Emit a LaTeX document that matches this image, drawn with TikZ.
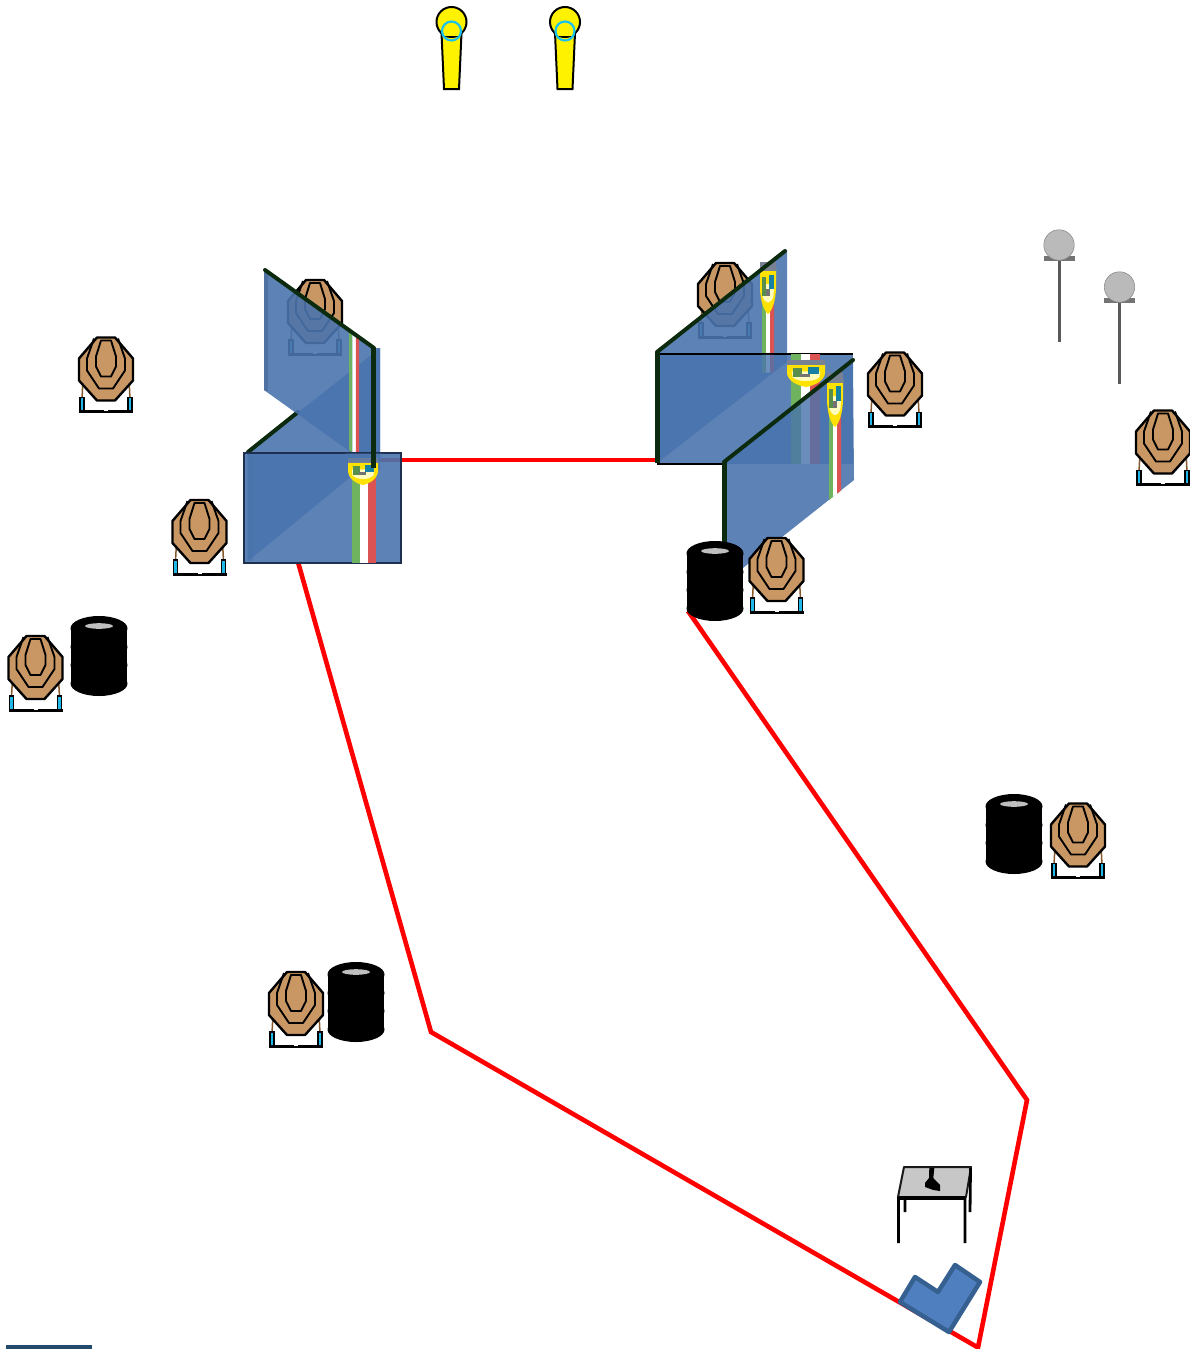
\documentclass[tikz,border=0pt]{standalone}
\definecolor{panelblue}{HTML}{4A74AE}
\definecolor{edgegreen}{HTML}{0C2A0E}
\definecolor{rimdark}{HTML}{1F2F4F}
\definecolor{targetbrown}{HTML}{C99764}
\definecolor{legblue}{HTML}{1FB8E8}
\definecolor{ringcyan}{HTML}{19C3EE}
\definecolor{flagG}{HTML}{6FB35F}
\definecolor{flagR}{HTML}{DB5353}
\definecolor{boxblue}{HTML}{4F7FBF}
\definecolor{boxrim}{HTML}{35608F}
\definecolor{sliver}{HTML}{234A6A}
\tikzset{
  panel/.style={fill=panelblue, fill opacity=0.9},
  wall top/.style={edgegreen, line width=4pt, line cap=round},
  wall post/.style={edgegreen, line width=5pt},
  range line/.style={red, line width=4.6pt, line join=miter},
  target/.pic={
    \fill[white] (-25,12) rectangle (25,37);
    \draw[brown!70!black, line width=1.5pt] (-23,5) -- (-24,24) (23,5) -- (24,24);
    \draw[black, fill=legblue, line width=1.1pt] (-26,23) rectangle (-22,37);
    \draw[black, fill=legblue, line width=1.1pt] (22,23) rectangle (26,37);
    \draw[black, line width=3pt] (-27,37) -- (27,37);
    \fill[white] (-2,35) rectangle (2,36.5);
    \draw[black, fill=targetbrown, line width=2.4pt, line join=round] (-9,-37) -- (9,-37) -- (27,-16) -- (27,6) -- (9,26) -- (-9,26) -- (-27,6) -- (-27,-16) -- cycle;
    \draw[black, line width=1.9pt, line join=round] (-12,-36) -- (-19,-16) -- (-19,-4) -- (-7,14) -- (7,14) -- (19,-4) -- (19,-16) -- (12,-36);
    \draw[black, line width=1.9pt, line join=round] (-5,-34) -- (5,-34) -- (10,-18) -- (10,-8) -- (5,2) -- (-5,2) -- (-10,-8) -- (-10,-18) -- cycle;
  },
  tyres/.pic={
    \foreach \h in {-27.5,-9,9,27.5}
      \fill[black] (0,\h) ellipse (28.5 and 12.5);
    \fill[black] (-27.7,-27) rectangle (27.7,27);
    \fill[black!25] (0,-30) ellipse (14 and 2.8);
  },
  popper/.pic={
    \draw[black, fill=yellow, line width=2pt] (-10,11) -- (-7.5,67) -- (7.5,67) -- (10,11) -- cycle;
    \draw[black, fill=yellow, line width=2pt] (0,0) circle (15);
    \fill[yellow] (-8.6,9) rectangle (8.6,14);
    \draw[ringcyan, line width=2.2pt] (0,9) circle (9.5);
  },
  pole/.pic={
    \draw[black!65, line width=3pt] (0,13) -- (0,97);
    \fill[black!55] (-15.5,11) rectangle (15.5,15.5);
    \draw[black!45, fill=black!27, line width=0.6pt] (0,0) circle (15.2);
  },
  badge/.pic={
    \fill[yellow!85!orange] (-1,-1) -- (1,-1) -- (1,-0.2) .. controls (1,0.5) and (0.4,0.9) .. (0,1) .. controls (-0.4,0.9) and (-1,0.5) .. (-1,-0.2) -- cycle;
    \fill[white!75!yellow] (-0.75,-0.3) -- (0.75,-0.3) -- (0.7,0.2) .. controls (0.4,0.6) and (-0.4,0.6) .. (-0.7,0.2) -- cycle;
    \fill[flagG!80!black] (-0.7,-0.6) rectangle (-0.2,0.2);
    \fill[legblue!70!black] (0.1,-0.7) rectangle (0.7,-0.1);
    \fill[black!55] (-0.3,-0.1) rectangle (0.2,0.2);
    \fill[rimdark!60] (-1,-1.25) rectangle (1,-0.85);
  },
}
% green white red band on a wall: x, width, top, bottom, slope, opacity
\newcommand{\flagbars}[6]{
  \foreach \colr/\i in {flagG/0,white/1,flagR/2}
    \fill[\colr, opacity=#6] ({#1+\i*#2},{#3+\i*#2*#5}) -- ({#1+(\i+1)*#2},{#3+(\i+1)*#2*#5}) -- ({#1+(\i+1)*#2},{#4+(\i+1)*#2*#5}) -- ({#1+\i*#2},{#4+\i*#2*#5}) -- cycle;
}
\begin{document}
\begin{tikzpicture}[x=1pt,y=-1pt]
\useasboundingbox (0,0) rectangle (1189,1349);

% range limit
\coordinate (gateL) at (378,460);
\coordinate (gateR) at (657,460);
\coordinate (wallfoot) at (298,562);
\coordinate (cornerA) at (431,1032);
\coordinate (cornerB) at (978,1347.5);
\coordinate (cornerC) at (1027,1100);
\coordinate (tyrefoot) at (688,611);
\draw[range line] (gateL) -- (gateR);
\draw[range line] (wallfoot) -- (cornerA) -- (cornerB) -- (cornerC) -- (tyrefoot);

\pic at (451.5,22) {popper};
\pic at (565,22) {popper};
\pic at (1059,245) {pole};
\pic at (1119.5,287) {pole};

% targets behind the walls
\pic at (315,317) {target};
\pic at (725,300) {target};

% left wall
\fill[panel] (248,452) -- (380,348) -- (380,453) -- (248,561) -- cycle;
\fill[black!40!panelblue, opacity=0.4] (247,453) rectangle (253,561);
\draw[wall top] (248,452) -- (298,412);
\fill[panel] (264,269) -- (376,348) -- (380,348) -- (380,470) -- (373,468) -- (264,390) -- cycle;
\fill[black!40!panelblue, opacity=0.25] (264,270) rectangle (268,391);
\flagbars{349}{3.4}{329}{450}{0.705}{1}
\draw[wall top] (265,270) -- (374,348);
\fill[panel, draw=rimdark, draw opacity=1, line width=1.5pt] (244,453) rectangle (401,563);
\flagbars{351.5}{8}{470}{563}{0}{1}
\pic[xscale=15,yscale=12] at (363,473) {badge};
\fill[panelblue, opacity=0.35] (345,453) rectangle (382,462);
\draw[wall post] (373,348) -- (373,468);

% right wall
\fill[panel] (657,352) -- (787,250) -- (787,362) -- (657,463) -- cycle;
\flagbars{762}{4}{269.6}{373}{-0.2}{1}
\pic[xscale=8,yscale=23] at (768,291) {badge};
\draw[wall top] (657,352) -- (785,251);
\fill[panel] (658,354) rectangle (853,464);
\draw[black, line width=1.6pt] (853,354) -- (658,354) -- (658,464) -- (724,464);
\flagbars{791}{9.7}{354}{464}{0}{1}
\flagbars{762}{4}{354}{373}{0}{0.12}
\pic[xscale=19,yscale=12] at (806,375) {badge};
\draw[wall post] (657,352) -- (657,463);
\fill[panel] (724,462) -- (853,360) -- (854,480) -- (724,583) -- cycle;
\begin{scope}
\clip (724,462) -- (853,360) -- (854,480) -- (724,583) -- cycle;
\flagbars{791}{9.7}{354}{464}{0}{0.1}
\end{scope}
\flagbars{829}{4}{379}{500}{-0.79}{1}
\pic[xscale=8,yscale=24] at (835,403) {badge};
\draw[wall top] (724,462) -- (853,360);
\draw[wall post] (724,462) -- (724,548);

\foreach \x/\y in {99/656,715/581,1014/834,356/1002}
  \pic at (\x,\y) {tyres};
\foreach \x/\y in {106/374.5,199.5/537,35.5/673,776.5/575,895/389.5,1163/447.5,1078/840.5,296/1009}
  \pic at (\x,\y) {target};

% table
\draw[black!90, fill=black!22, line width=2pt, line join=round] (904,1167) -- (971,1167) -- (966,1197) -- (898,1197) -- cycle;
\draw[black, line width=3.5pt] (899,1198) -- (965,1198);
\draw[black, line width=2.8pt] (898.5,1197) -- (898.5,1243) (965,1197) -- (965,1243) (905,1199) -- (905,1212) (970.5,1168) -- (970,1212);
\fill[black] (929.3,1168) -- (934.3,1168) -- (933.3,1178) -- (940,1185) -- (940,1191) -- (933.3,1190) -- (925,1187) -- (925,1183) -- (929,1178) -- cycle;

% shooting box
\draw[boxrim, fill=boxblue, line width=4.5pt, line join=round] (915,1277) -- (938,1292) -- (955,1265) -- (980,1282) -- (949,1332) -- (900,1302) -- cycle;

\fill[sliver] (6,1345) rectangle (92,1349);
\end{tikzpicture}
\end{document}
